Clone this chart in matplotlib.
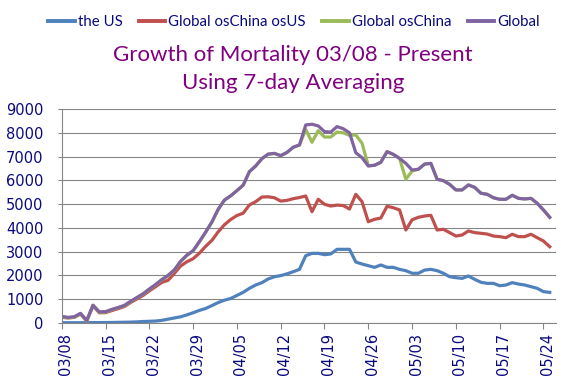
import matplotlib
matplotlib.use("Agg")
import matplotlib.pyplot as plt
import matplotlib.transforms as mtrans
import pandas as pd

dates = pd.date_range("2020-03-08", periods=79, freq="D")
tick_labels = [d.strftime("%m/%d") for d in dates[::7]]

us = [0, 0, 0, 0, 0, 5, 5, 8, 10, 15,
      20, 25, 35, 50, 60, 70, 100, 150, 200, 250,
      330, 420, 520, 600, 720, 850, 950, 1020, 1150, 1280,
      1450, 1590, 1690, 1845, 1940, 1985, 2060, 2150, 2250, 2825,
      2925, 2925, 2870, 2900, 3095, 3095, 3095, 2560, 2475, 2405,
      2335, 2435, 2335, 2335, 2250, 2195, 2085, 2085, 2220, 2250,
      2195, 2085, 1940, 1900, 1870, 1970, 1830, 1705, 1660, 1660,
      1560, 1590, 1690, 1630, 1590, 1520, 1450, 1310, 1280]

ex_china_us = [230, 200, 225, 370, 70, 720, 420, 425, 510, 590,
               680, 850, 1000, 1150, 1340, 1520, 1700, 1790, 2080, 2390,
               2570, 2700, 2930, 3220, 3470, 3830, 4130, 4350, 4520, 4620,
               4965, 5105, 5300, 5310, 5270, 5130, 5160, 5230, 5280, 5345,
               4680, 5205, 4995, 4920, 4960, 4940, 4795, 5415, 5105, 4260,
               4360, 4415, 4910, 4850, 4755, 3910, 4340, 4445, 4500, 4530,
               3910, 3940, 3800, 3655, 3700, 3870, 3800, 3770, 3740, 3655,
               3630, 3585, 3730, 3630, 3630, 3730, 3585, 3445, 3205]

ex_china = [250, 210, 235, 380, 75, 725, 445, 450, 545, 625,
            715, 885, 1045, 1205, 1405, 1595, 1805, 1985, 2215, 2575,
            2835, 3025, 3405, 3805, 4235, 4770, 5170, 5350, 5570, 5800,
            6370, 6610, 6920, 7110, 7140, 7045, 7180, 7400, 7495, 8150,
            7610, 8100, 7830, 7830, 8040, 8010, 7900, 7920, 7570, 6620,
            6640, 6765, 7215, 7100, 6930, 6050, 6400, 6470, 6690, 6720,
            6050, 5990, 5835, 5600, 5600, 5810, 5710, 5460, 5415, 5270,
            5205, 5205, 5375, 5245, 5220, 5245, 5035, 4755, 4445]

world = [265, 225, 250, 395, 90, 740, 460, 465, 560, 640,
         730, 900, 1060, 1220, 1420, 1610, 1820, 2000, 2230, 2590,
         2850, 3040, 3420, 3820, 4250, 4780, 5170, 5350, 5570, 5800,
         6370, 6610, 6920, 7110, 7140, 7045, 7180, 7400, 7495, 8340,
         8370, 8300, 8060, 8040, 8270, 8180, 8010, 7170, 6960, 6610,
         6640, 6765, 7215, 7100, 6930, 6720, 6440, 6470, 6690, 6720,
         6050, 5990, 5835, 5600, 5600, 5810, 5710, 5460, 5415, 5270,
         5205, 5205, 5375, 5245, 5220, 5245, 5035, 4755, 4445]

days = list(range(len(dates)))
navy = "#0A0A80"
grey = "#868686"

fig = plt.figure(figsize=(5.8, 3.89), dpi=100)
ax = fig.add_axes([0.1064, 0.1704, 0.8522, 0.5486])

lw = 2.3
ax.plot(days, us, color="#4F81BD", lw=lw, label="the US")
ax.plot(days, ex_china_us, color="#C0504D", lw=lw, label="Global osChina osUS")
ax.plot(days, ex_china, color="#9BBB59", lw=lw, label="Global osChina")
ax.plot(days, world, color="#8064A2", lw=lw, label="Global")

ax.set_xlim(0, 79)
ax.set_ylim(0, 9000)
ax.set_yticks(range(0, 9001, 1000))
ax.set_xticks(days[::7])
ax.set_xticklabels(tick_labels, rotation=90, ha="center", va="top")
ax.grid(axis="y", color=grey, lw=0.8)
ax.set_axisbelow(True)
for s in ["top", "right"]:
    ax.spines[s].set_visible(False)
for s in ["left", "bottom"]:
    ax.spines[s].set_color(grey)
    ax.spines[s].set_linewidth(0.8)
ax.tick_params(axis="x", colors=grey, labelcolor=navy, length=4.5, width=0.8,
               pad=3, labelsize=10.5)
ax.tick_params(axis="y", colors=grey, labelcolor=navy, length=3, width=0.8,
               pad=10, labelsize=10.5)
offset = mtrans.ScaledTranslation(0.04, 0, fig.dpi_scale_trans)
for lab in ax.get_xticklabels():
    lab.set_transform(lab.get_transform() + offset)

leg = fig.legend(loc="center", bbox_to_anchor=(0.507, 0.943), ncol=4,
                 frameon=False, handlelength=1.76, handletextpad=0.2,
                 columnspacing=1.1, prop={"family": "Lato", "size": 10.8})
for t in leg.get_texts():
    t.set_color(navy)
for h in leg.get_lines():
    h.set_linewidth(2.8)

fig.text(0.505, 0.859, "Growth of Mortality 03/08 - Present", ha="center",
         va="center", color="#800080", family="Lato", fontsize=16)
fig.text(0.505, 0.787, "Using 7-day Averaging", ha="center", va="center",
         color="#800080", family="Lato", fontsize=16)

fig.savefig("out.png", dpi=100)
